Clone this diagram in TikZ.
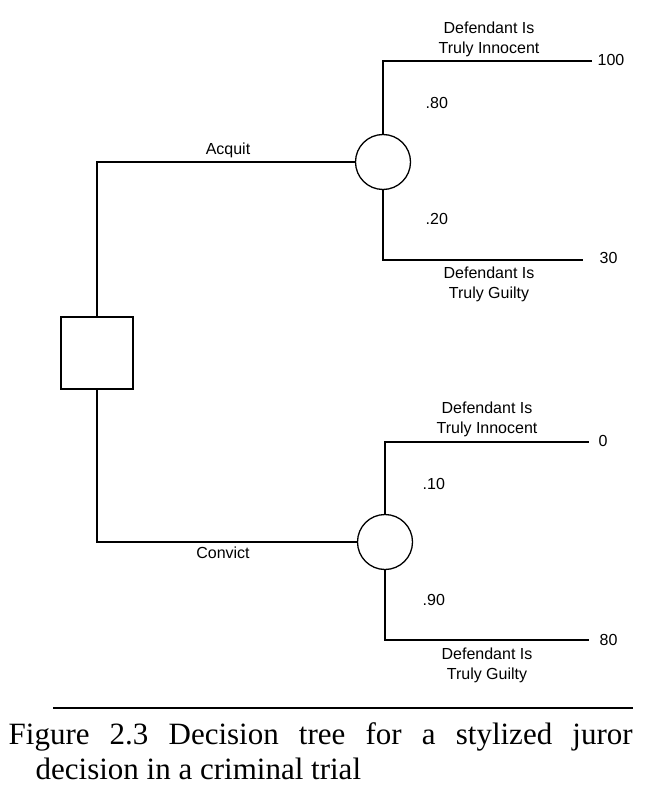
\documentclass[tikz,border=0pt]{standalone}
\usepackage{fontspec}
\setmainfont{Liberation Serif}
\setsansfont{Liberation Sans}

\begin{document}
\begin{tikzpicture}[x=1pt,y=-1pt,line width=1.3pt,
  decision/.style={draw,rectangle,minimum size=72pt,inner sep=0pt},
  chance/.style={draw,circle,minimum size=55pt,inner sep=0pt},
  lbl/.style={font=\sffamily\fontsize{16}{20}\selectfont,align=center,inner sep=0pt},
  prob/.style={lbl,anchor=west},
  payoff/.style={lbl,anchor=west},
  caption/.style={font=\fontsize{31}{35}\selectfont,align=left,inner sep=0pt,anchor=north west}]
\useasboundingbox (0,0) rectangle (659,802);

\node[decision] (dec) at (97,353) {};
\node[chance] (acq) at (383,162) {};
\node[chance] (con) at (385,542) {};

\coordinate (acqhi) at (592,61);
\coordinate (acqlo) at (583,260);
\coordinate (conhi) at (589,442);
\coordinate (conlo) at (589,640);

\draw (dec.north) |- (acq.west);
\draw (dec.south) |- (con.west);
\draw (acq.north) |- (acqhi);
\draw (acq.south) |- (acqlo);
\draw (con.north) |- (conhi);
\draw (con.south) |- (conlo);

\node[lbl] (acqlab) at (228,150) {Acquit};
\node[lbl] (conlab) at (223,553) {Convict};

\node[lbl] (inn1) at (489,39) {Defendant Is\\Truly Innocent};
\node[lbl] (gui1) at (489,284) {Defendant Is\\Truly Guilty};
\node[lbl] (inn2) at (487,419) {Defendant Is\\Truly Innocent};
\node[lbl] (gui2) at (487,665) {Defendant Is\\Truly Guilty};

\node[prob] (p80) at (425,103) {.80};
\node[prob] (p20) at (425,219) {.20};
\node[prob] (p10) at (422,484) {.10};
\node[prob] (p90) at (422,600) {.90};

\node[payoff] (v100) at (597,60) {100};
\node[payoff] (v30) at (599,258) {30};
\node[payoff] (v0) at (598,441) {0};
\node[payoff] (v80) at (599,640) {80};

% caption
\coordinate (rulel) at (53,708);
\coordinate (ruler) at (633,708);
\draw (rulel) -- (ruler);
\node[caption] (cap) at (8,722) {\makebox[624pt][s]{Figure 2.3 Decision tree for a stylized juror}\\\hspace*{27pt}decision in a criminal trial};

\end{tikzpicture}
\end{document}
